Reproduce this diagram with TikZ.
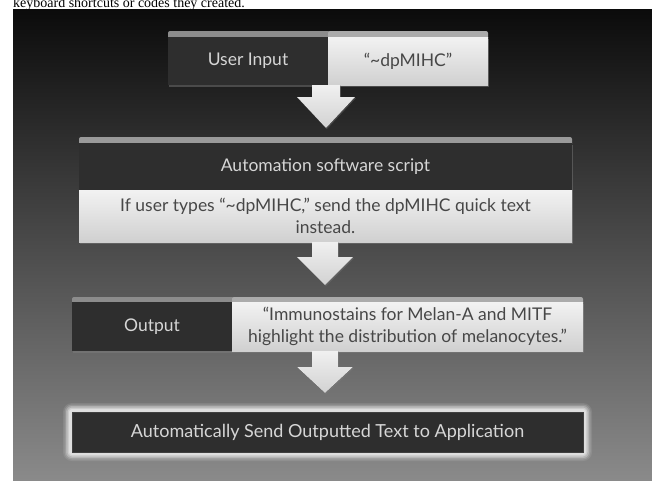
\documentclass[tikz,border=0pt]{standalone}
\usepackage{fontspec}
\setmainfont{Lato}
\newfontfamily\capfont{Liberation Serif}
\usetikzlibrary{calc,shadows}
\definecolor{panelTop}{HTML}{0B0B0B}
\definecolor{panelBot}{HTML}{8A8A8A}
\definecolor{darkcellc}{HTML}{2E2E2E}
\definecolor{lightTop}{HTML}{F2F2F2}
\definecolor{lightBot}{HTML}{D0D0D0}
\definecolor{darktext}{HTML}{D6D6D6}
\definecolor{lighttext}{HTML}{474747}
\definecolor{stripA}{HTML}{8C8C8C}
\definecolor{stripB}{HTML}{ABABAB}
\definecolor{arrowTop}{HTML}{F0F0F0}
\definecolor{arrowBot}{HTML}{D2D2D2}
\definecolor{glowc}{HTML}{E2E2E2}
\tikzset{
  cellbase/.style={inner sep=0pt, outer sep=0pt, anchor=north west,
    font=\fontsize{17.5}{21.5}\selectfont, align=center,
    drop shadow={opacity=0.45, shadow xshift=0.8pt, shadow yshift=-1.6pt}},
  darkcell/.style={cellbase, fill=darkcellc, text=darktext},
  lightcell/.style={cellbase, top color=lightTop, bottom color=lightBot, text=lighttext},
  stripstyle/.style={rounded corners=2pt},
  blockarrow/.style={top color=arrowTop, bottom color=arrowBot,
    drop shadow={opacity=0.35, shadow xshift=0.8pt, shadow yshift=-1.2pt}},
  finalcell/.style={inner sep=0pt, outer sep=0pt, fill=darkcellc, draw=black!75, line width=0.6pt,
    text=darktext, font=\fontsize{18}{21}\selectfont}
}
\begin{document}
\begin{tikzpicture}[x=1pt,y=-1pt]
\useasboundingbox (0,0) rectangle (652,480);
\fill[white] (0,0) rectangle (652,480);
% cut caption line
\node[anchor=base west, inner sep=0pt, font=\capfont\fontsize{14}{14}\selectfont] (caption) at (13,7.2) {keyboard shortcuts or codes they created.};
% background panel
\shade[top color=panelTop, bottom color=panelBot] (13,9) rectangle (652,480);

% ---------- Box 1 ----------
\fill[stripA, stripstyle] (168,31) rectangle (330,40);
\fill[stripB, stripstyle] (328,31) rectangle (488,40);
\node[darkcell, minimum width=160pt, minimum height=48pt] (ui) at (168,37) {User Input};
\node[lightcell, minimum width=160pt, minimum height=48pt] (code) at (328,37) {“\textasciitilde dpMIHC”};

% ---------- Box 2 ----------
\fill[stripB!90!black, stripstyle] (79,137) rectangle (572,146);
\node[darkcell, minimum width=493pt, minimum height=47pt] (auto) at (79,143) {Automation software script};
\node[lightcell, minimum width=493pt, minimum height=52pt] (rule) at (79,190)
  {If user types “\textasciitilde dpMIHC,” send the dpMIHC quick text\\[0.5pt]instead.};

% ---------- Box 3 ----------
\fill[stripA, stripstyle] (72,297) rectangle (234,305);
\fill[stripB, stripstyle] (232,297) rectangle (583,305);
\node[darkcell, minimum width=160pt, minimum height=49pt] (out) at (72,302) {Output};
\node[lightcell, minimum width=351pt, minimum height=49pt] (quote) at (232,302)
  {“Immunostains for Melan-A and MITF\\highlight the distribution of melanocytes.”};

% ---------- Box 4 with glow ----------
\coordinate (sendc) at (327.5,432);
\foreach \r/\o in {9/0.12, 7.5/0.2, 6/0.35, 4.5/0.55, 3/0.85} {
  \fill[glowc, opacity=\o, rounded corners=\r pt]
    ($(sendc)+(-255.5-\r,-20-\r)$) rectangle ($(sendc)+(255.5+\r,20+\r)$);
}
\node[finalcell, minimum width=511pt, minimum height=40pt] (send) at (sendc)
  {Automatically Send Outputted Text to Application};

% ---------- block arrows ----------
\fill[blockarrow] ($(ui.south east)+(-16,0)$) -- ++(0,12) -- ++(-15,0) -- ++(29,31) -- ++(29,-31) -- ++(-15,0) -- ++(0,-12) -- cycle;
\fill[blockarrow] ($(rule.south)+(-13.5,0)$) -- ++(0,15) -- ++(-15,0) -- ++(28,28) -- ++(28,-28) -- ++(-15,0) -- ++(0,-15) -- cycle;
\fill[blockarrow] ($(quote.south west)+(80,0)$) -- ++(0,16) -- ++(-15,0) -- ++(28,26) -- ++(28,-26) -- ++(-15,0) -- ++(0,-16) -- cycle;
\end{tikzpicture}
\end{document}
